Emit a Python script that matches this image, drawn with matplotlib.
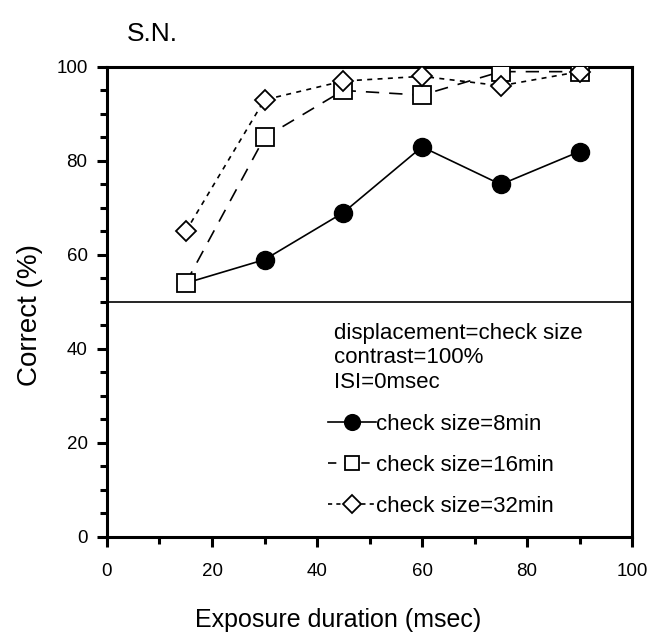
import matplotlib
matplotlib.use("Agg")
import matplotlib.pyplot as plt
from matplotlib.ticker import MultipleLocator

plt.rcParams['font.family'] = ['Liberation Sans', 'DejaVu Sans']

exposure = [15, 30, 45, 60, 75, 90]
size8 = [54, 59, 69, 83, 75, 82]
size16 = [54, 85, 95, 94, 99, 99]
size32 = [65, 93, 97, 98, 96, 99]
labels = ['check size=8min', 'check size=16min', 'check size=32min']
conditions = ['displacement=check size', 'contrast=100%', 'ISI=0msec']

fig = plt.figure(figsize=(6.54, 6.4), dpi=100)
ax = fig.add_axes([0.1636, 0.161, 0.8028, 0.7344])

ax.axhline(50, color='black', lw=1.2, zorder=1)

l1, = ax.plot(exposure, size8, '-', color='black', lw=1.2, marker='o',
              ms=13, mfc='black', mec='black', zorder=3, label=labels[0],
              markevery=list(range(1, len(exposure))))
l2, = ax.plot(exposure, size16, color='black', lw=1.2, dashes=(8, 6), marker='s',
              ms=12.5, mfc='white', mec='black', mew=1.3, zorder=4, label=labels[1])
l3, = ax.plot(exposure, size32, color='black', lw=1.2, dashes=(3, 3.2), marker='D',
              ms=10.5, mfc='white', mec='black', mew=1.3, zorder=5, label=labels[2])

ax.set_xlim(0, 100)
ax.set_ylim(0, 100)
ax.xaxis.set_major_locator(MultipleLocator(20))
ax.xaxis.set_minor_locator(MultipleLocator(10))
ax.yaxis.set_major_locator(MultipleLocator(20))
ax.yaxis.set_minor_locator(MultipleLocator(5))
ax.tick_params(which='major', direction='out', length=7, width=2.2, labelsize=13.5)
ax.tick_params(which='minor', direction='out', length=5, width=2.2)
ax.tick_params(axis='x', which='major', pad=12)
ax.tick_params(axis='y', which='major', pad=7)
ax.tick_params(top=False, right=False)
for s in ax.spines.values():
    s.set_linewidth(2.2)

ax.set_xlabel('Exposure duration (msec)', fontsize=18)
ax.xaxis.set_label_coords(0.44, -0.152)
ax.set_ylabel('Correct (%)', fontsize=20)
ax.yaxis.set_label_coords(-0.122, 0.472)

fig.text(0.194, 0.947, 'S.N.', fontsize=19, ha='left', va='center')

ax.text(0.432, 0.455, '\n'.join(conditions), transform=ax.transAxes,
        fontsize=16, ha='left', va='top', linespacing=1.2)

handles_leg = []
for ln in (l1, l2, l3):
    h, = ax.plot([], [], color='black', lw=1.2, marker=ln.get_marker(),
                 ms=ln.get_markersize() * 0.85, mfc=ln.get_markerfacecolor(),
                 mec='black', mew=1.3, label=ln.get_label())
    h.set_linestyle(ln.get_linestyle())
    handles_leg.append(h)
handles_leg[1].set_dashes((5, 5))
handles_leg[2].set_dashes((2.5, 2.5))

leg = ax.legend(handles=handles_leg, loc='upper left', bbox_to_anchor=(0.42, 0.262),
                frameon=False, fontsize=16, handlelength=2.2, handletextpad=0.0,
                labelspacing=0.9, borderaxespad=0, borderpad=0)

fig.savefig('out.png', dpi=100)
